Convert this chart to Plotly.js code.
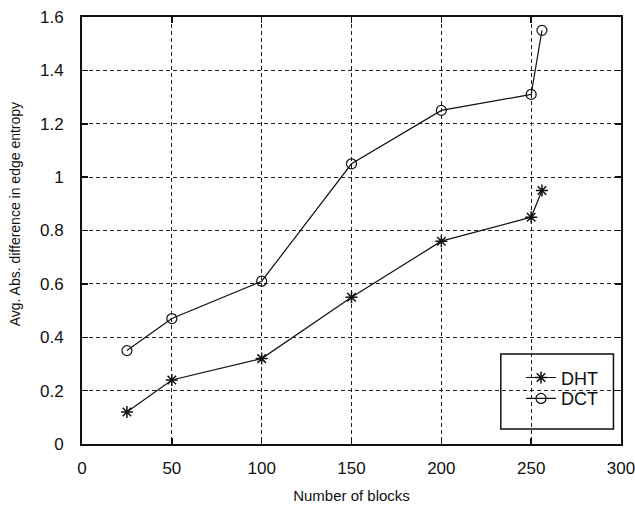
<!DOCTYPE html>
<html><head><meta charset="utf-8">
<script src="https://cdn.plot.ly/plotly-3.0.1.min.js"></script>
<style>body{margin:0;background:#fff}#c{width:635px;height:505px}</style>
</head><body><div id="c"></div>
<script>
const blocks = [25, 50, 100, 150, 200, 250, 256];
const dht = [0.12, 0.24, 0.32, 0.55, 0.76, 0.85, 0.95];
const dct = [0.35, 0.47, 0.61, 1.05, 1.25, 1.31, 1.55];
const xTicks = [0, 50, 100, 150, 200, 250, 300];
const yTicks = [0, 0.2, 0.4, 0.6, 0.8, 1, 1.2, 1.4, 1.6];
const yTickText = ['0', '0.2', '0.4', '0.6', '0.8', '1', '1.2', '1.4', '1.6'];
const xTitle = 'Number of blocks';
const yTitle = 'Avg. Abs. difference in edge entropy';

const font = 'Liberation Sans, Arial, sans-serif';
const narrow = 'Liberation Sans Narrow, Arial Narrow, Liberation Sans, sans-serif';
const ink = '#111';
const traces = [
  {x: blocks, y: dht, name: 'DHT', mode: 'lines+markers', type: 'scatter', legend: 'legend',
   line: {color: ink, width: 1.2},
   marker: {symbol: 'asterisk-open', size: 10, color: ink, line: {color: ink, width: 1.5}}},
  {x: blocks, y: dct, name: 'DCT', mode: 'lines+markers', type: 'scatter', legend: 'legend2',
   line: {color: ink, width: 1.2},
   marker: {symbol: 'circle-open', size: 10, color: ink, line: {color: ink, width: 1.2}}}
];
const axisCommon = {
  showline: true, linecolor: ink, linewidth: 2, mirror: 'ticks',
  ticks: 'inside', ticklen: 6, tickcolor: ink, tickwidth: 1.5,
  showgrid: true, gridcolor: '#222', griddash: '4px,3px', gridwidth: 1,
  zeroline: false, ticklabeloverflow: 'allow',
  tickfont: {family: narrow, size: 17, color: ink}
};
const legendCommon = {
  x: 0.8145, xanchor: 'left', yanchor: 'middle',
  bgcolor: 'rgba(0,0,0,0)', borderwidth: 0,
  font: {family: narrow, size: 18, color: ink}
};
const layout = {
  width: 635, height: 505,
  margin: {l: 82, r: 14, t: 17, b: 61},
  paper_bgcolor: '#fff', plot_bgcolor: '#fff',
  showlegend: true,
  legend: Object.assign({}, legendCommon, {y: 0.155}),
  legend2: Object.assign({}, legendCommon, {y: 0.106}),
  shapes: [{type: 'rect', xref: 'x domain', yref: 'y domain',
    x0: 0.777, x1: 0.986, y0: 0.035, y1: 0.211, layer: 'below',
    fillcolor: '#fff', line: {color: ink, width: 1.5}}],
  annotations: [{text: yTitle, xref: 'paper', yref: 'paper', x: -0.125, y: 0.537,
    xanchor: 'center', yanchor: 'middle', textangle: -90, showarrow: false,
    font: {family: font, size: 14, color: ink}}],
  xaxis: Object.assign({}, axisCommon, {
    range: [0, 300], tickvals: xTicks, ticktext: xTicks.map(String), ticklabelstandoff: 8,
    title: {text: xTitle, font: {family: font, size: 15, color: ink}, standoff: 13}
  }),
  yaxis: Object.assign({}, axisCommon, {
    range: [0, 1.6], tickvals: yTicks, ticktext: yTickText, ticklabelstandoff: 13
  })
};
Plotly.newPlot('c', traces, layout, {displayModeBar: false, staticPlot: true});
</script>
</body></html>
